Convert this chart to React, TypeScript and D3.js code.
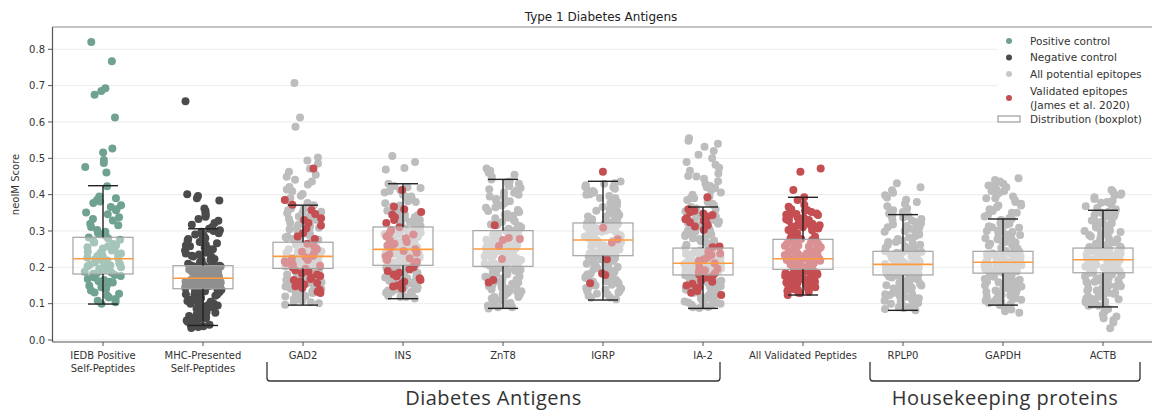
import React from 'react';
import * as d3 from 'd3';

const categories = [
  'IEDB Positive\nSelf-Peptides', 'MHC-Presented\nSelf-Peptides', 'GAD2', 'INS', 'ZnT8', 'IGRP', 'IA-2',
  'All Validated Peptides', 'RPLP0', 'GAPDH', 'ACTB',
];
const yTickValues = [0, 0.1, 0.2, 0.3, 0.4, 0.5, 0.6, 0.7, 0.8];

// box statistics
const boxQ1 = [.1816, .141, .197, .2055, .2027, .232, .179, .1945, .179, .184, .185];
const boxMed = [.2237, .170, .230, .2495, .2504, .275, .211, .2237, .208, .214, .221];
const boxQ3 = [.2826, .2045, .269, .311, .301, .322, .253, .277, .244, .244, .253];
const whiskLo = [.099, .040, .096, .1137, .087, .110, .087, .1238, .0816, .096, .091];
const whiskHi = [.4246, .306, .371, .430, .442, .4367, .366, .3926, .345, .333, .357];

const posControl = [.82,.767,.693,.685,.675,.612,.527,.516,.495,.487,.476,.461,.423,
.395,.39,.386,.381,.377,.371,.366,.36,.357,.351,.346,.338,.333,.329,.32,.316,.311,.303,.298,.294,.291,.287,
.282,.279,.276,.271,.268,.264,.261,.258,.255,.252,.249,.246,.243,.24,.238,.235,.233,.231,.229,.227,.225,
.223,.221,.219,.217,.215,.213,.211,.209,.207,.205,.203,.2,.198,.196,.194,.192,.19,.188,.186,.184,.182,
.179,.176,.172,.168,.165,.162,.16,.158,.156,.153,.149,.145,.14,.136,.131,.127,.122,.117,.113,.108,.104,.1];

const negControl = [.657,.401,.396,.39,.384,.362,.355,.349,.344,.339,.333,.328,.322,.317,.311,
.306,.302,.298,.294,.29,.286,.282,.278,.274,.27,.266,.262,.258,.254,.25,.246,.242,.238,.235,.232,.229,.226,.223,.22,.217,.214,.212,.21,.208,.206,
.204,.203,.202,.2,.199,.198,.196,.195,.194,.192,.191,.19,.188,.187,.186,.185,.183,.182,.181,.18,.178,.177,.176,.175,.174,.173,.172,.171,
.17,.169,.168,.167,.166,.165,.164,.163,.162,.161,.16,.159,.158,.157,.156,.155,.154,.153,.152,.151,.15,.149,.148,.147,.146,.145,.144,.143,.142,.141,
.14,.138,.136,.134,.132,.13,.128,.126,.124,.122,.119,.116,.113,.11,.107,.104,.1,.097,.093,.09,.086,.082,.078,.074,.07,.066,.062,.058,.054,.05,.046,.042,.04,.038,.036,.033,
.3,.29,.28,.27,.26,.25,.24,.23,.22,.21,.205,.2,.195,.19,.185,.18,.175,.17,.165,.16,.155,.15,.145,.14,.135,.13,.125,.12,.115,.11,.105,.1,.095,.09,.085,.08,.075,.07,.065,.06,.055,.05];

const gad2All = [.707,.612,.587,.502,.494,.486,.471,.463,.455,.449,.441,.436,.428,.421,.414,.409,.402,.397,.391,.386,.381,.377,
.371,.366,.362,.357,.353,.349,.344,.34,.336,.331,.327,.322,.318,.314,.309,.305,.301,.297,.293,.289,.285,.281,.278,.275,.272,
.268,.266,.264,.262,.26,.258,.256,.254,.252,.25,.248,.246,.244,.242,.24,.238,.236,.234,.232,.23,
.229,.227,.225,.223,.221,.219,.217,.215,.213,.211,.209,.207,.205,.203,.201,.199,.197,
.195,.192,.189,.186,.183,.18,.177,.174,.171,.168,.165,.162,.159,.156,.153,.15,.147,.144,.141,.137,.133,.129,.125,.121,.117,.113,.109,.105,.101,.097,
.36,.35,.342,.333,.325,.316,.307,.298,.29,.283,.276,.27,.263,.257,.251,.245,.239,.233,.228,.224,.219,.214,.21,.206,.202,.198,.194,.19,.185,.18,.175,.17,.164,.158,.152,.146,.14,.134,.127,.12,.112,.104];
const gad2Val = [.472,.385,.372,.358,.347,.335,.33,.322,.315,.307,.294,.285,.278,.265,.257,.25,.243,.238,.232,.228,.224,.22,.216,.212,.208,.204,.2,.196,.192,.188,.184,.18,.176,.172,.168,.165,.161,.157,.153,.148,.143,.138,.133,.129];

const insAll = [.506,.49,.473,.469,
.43,.424,.418,.412,.406,.4,.394,.388,.382,.376,.37,.364,.358,.353,.348,.343,.338,.334,.33,.326,.322,.318,.314,
.31,.307,.304,.301,.298,.295,.292,.289,.286,.283,.28,.277,.274,.271,.268,.265,.262,.259,.256,.253,.251,
.249,.247,.245,.243,.241,.239,.237,.235,.233,.231,.229,.227,.225,.223,.221,.219,.217,.215,.213,.211,.209,.207,
.205,.202,.199,.196,.193,.19,.187,.184,.181,.178,.175,.172,.169,.166,.163,.16,.157,.154,.151,.148,.145,.142,.139,.136,.133,.13,.127,.124,.121,.118,.114,
.42,.41,.395,.38,.368,.356,.345,.335,.325,.316,.308,.3,.292,.284,.276,.269,.262,.256,.25,.244,.238,.232,.226,.22,.214,.208,.2,.192,.185,.177,.17,.162,.155,.147,.14,.132,.125,.118];
const insVal = [.413,.367,.36,.352,.345,.338,.33,.322,.31,.302,.295,.29,.285,.28,.275,.27,.265,.26,.255,.25,.245,.24,.235,.23,.225,.22,.215,.21,.2,.195,.19,.185,.18,.175,.17,.165,.16,.155,.15,.147,.142];

const znt8All = [.472,.466,.46,.455,.449,
.442,.436,.43,.424,.418,.412,.406,.4,.394,.388,.382,.376,.37,.364,.358,.352,.347,.342,.337,.332,.327,.322,.318,.314,.31,.306,.302,
.3,.297,.294,.291,.288,.285,.282,.279,.276,.273,.27,.267,.264,.262,.26,.258,.256,.254,.252,.251,
.25,.248,.246,.244,.242,.24,.238,.236,.234,.232,.23,.228,.226,.224,.222,.22,.218,.216,.214,.212,.21,.208,.206,.204,
.202,.199,.196,.193,.19,.187,.184,.181,.178,.175,.172,.169,.166,.163,.16,.157,.154,.151,.148,.145,.142,.139,.136,.133,.13,.126,.122,.118,.114,.11,.106,.102,.098,.094,.09,.087,
.435,.425,.415,.405,.395,.385,.375,.365,.355,.345,.335,.325,.316,.308,.3,.292,.285,.278,.271,.265,.259,.253,.247,.241,.235,.229,.223,.217,.211,.205,.198,.19,.182,.174,.166,.158,.15,.142,.134,.126,.118,.108,.098,.09];
const znt8Val = [.316,.281,.278,.275,.259,.223,.165,.158];

const igrpAll = [.436,.431,.426,.421,.416,.411,.406,.401,.396,.391,.386,.381,.376,.371,.366,.361,.356,.352,.348,.344,.34,.336,.332,.328,.325,
.322,.319,.316,.313,.31,.307,.304,.301,.298,.295,.292,.289,.286,.283,.28,.277,
.275,.273,.271,.269,.267,.265,.263,.261,.259,.257,.255,.253,.251,.249,.247,.245,.243,.241,.239,.237,.235,.233,
.231,.228,.225,.222,.219,.216,.213,.21,.207,.204,.201,.198,.195,.192,.189,.186,.183,.18,.177,.174,.171,.168,.165,.162,.158,.154,.15,.146,.142,.138,.134,.131,.127,.122,.117,.112,
.43,.42,.41,.4,.39,.38,.37,.36,.35,.34,.33,.32,.312,.305,.298,.291,.285,.279,.273,.267,.261,.255,.249,.243,.237,.231,.225,.218,.21,.202,.194,.186,.178,.17,.161,.152,.143,.134,.125,.116];
const igrpVal = [.463,.309,.277,.268,.222,.183,.179,.156];

const ia2All = [.555,.548,.54,.532,.52,.51,.5,.49,.482,.474,.466,.458,.451,.444,.437,.43,.424,.418,.412,.406,.4,.395,.39,.385,.38,.375,.37,
.366,.362,.358,.354,.35,.346,.342,.338,.334,.33,.326,.322,.318,.314,.31,.306,.302,.298,.294,.29,.286,.282,.278,.274,.27,.266,.262,.258,.255,
.253,.251,.249,.247,.245,.243,.241,.239,.237,.235,.233,.231,.229,.227,.225,.223,.221,.219,.217,.215,.213,.211,
.21,.209,.208,.207,.206,.205,.204,.203,.202,.201,.2,.199,.198,.197,.196,.195,.194,.193,.192,.191,.19,.189,.188,.187,.186,.185,.184,.183,.182,.181,.18,
.178,.175,.172,.169,.166,.163,.16,.157,.154,.151,.148,.145,.142,.139,.136,.133,.13,.127,.124,.121,.118,.115,.112,.109,.106,.103,.1,.097,.094,.091,.088,
.36,.35,.34,.33,.32,.31,.3,.29,.28,.272,.265,.258,.252,.246,.24,.235,.23,.225,.22,.215,.21,.205,.2,.195,.19,.186,.182,.177,.172,.167,.162,.156,.15,.144,.138,.132,.126,.12,.114,.108,.102,.096,.09,.45,.42,.39];
const ia2Val = [.393,.36,.356,.352,.348,.344,.34,.336,.332,.328,.324,.32,.316,.312,.303,.257,.255,.243,.238,.234,.23,.226,.222,.218,.214,.211,.2,.196,.192,.188,.184,.18,.176,.172,.168,.164,.16,.155,.15,.145,.14,.135,.13,.124];

const rplp0All = [.431,.42,.412,.405,.398,.392,.386,.38,.374,.368,.362,.357,.352,.348,
.345,.341,.337,.333,.329,.325,.321,.318,.314,.31,.306,.302,.298,.294,.29,.286,.282,.278,.274,.27,.266,.262,.258,.254,.25,.247,
.244,.242,.24,.238,.236,.234,.232,.23,.228,.226,.224,.222,.22,.218,.216,.214,.212,.21,.209,
.208,.207,.206,.205,.204,.203,.202,.201,.2,.199,.198,.197,.196,.195,.194,.193,.192,.191,.19,.189,.188,.187,.186,.185,.184,.183,.182,.181,.18,
.178,.175,.172,.169,.166,.163,.16,.157,.154,.151,.148,.145,.142,.139,.136,.133,.13,.127,.124,.121,.118,.115,.112,.109,.106,.103,.1,.097,.094,.091,.088,.085,.082,
.34,.33,.32,.31,.3,.29,.28,.27,.262,.255,.248,.242,.236,.23,.225,.22,.215,.21,.205,.2,.195,.19,.186,.182,.177,.172,.167,.162,.156,.15,.144,.138,.132,.126,.12,.114,.108,.102,.096,.09];

const gapdhAll = [.445,.44,.436,.43,.425,.42,.415,.41,.405,.4,.395,.39,.385,.38,.375,.37,.365,.36,.355,.35,.345,.34,.336,
.333,.329,.325,.321,.317,.313,.309,.305,.301,.297,.293,.289,.285,.281,.277,.273,.269,.265,.261,.257,.253,.249,.246,
.244,.242,.24,.238,.236,.234,.232,.23,.228,.226,.224,.222,.22,.218,.216,
.214,.213,.212,.211,.21,.209,.208,.207,.206,.205,.204,.203,.202,.201,.2,.199,.198,.197,.196,.195,.194,.193,.192,.191,.19,.189,.188,.187,.186,.185,
.183,.18,.177,.174,.171,.168,.165,.162,.159,.156,.153,.15,.147,.144,.141,.138,.135,.132,.129,.126,.123,.12,.117,.114,.111,.108,.105,.102,.099,.096,.09,.084,.079,.075,
.43,.41,.39,.37,.35,.33,.32,.31,.3,.29,.28,.27,.26,.252,.245,.238,.232,.226,.22,.215,.21,.205,.2,.195,.19,.186,.182,.177,.172,.166,.16,.154,.148,.142,.136,.13,.124,.118,.112,.106,.1];

const actbAll = [.413,.408,.403,.398,.393,.388,.383,.378,.373,.368,.363,
.357,.353,.349,.345,.341,.337,.333,.329,.325,.321,.317,.313,.309,.305,.301,.297,.293,.289,.285,.281,.277,.273,.269,.265,.261,.257,.255,
.253,.251,.249,.247,.245,.243,.241,.239,.237,.235,.233,.231,.229,.227,.225,.223,.222,
.221,.219,.217,.215,.213,.211,.209,.207,.205,.203,.201,.199,.197,.195,.193,.191,.189,.187,.186,
.184,.181,.178,.175,.172,.169,.166,.163,.16,.157,.154,.151,.148,.145,.142,.139,.136,.133,.13,.127,.124,.121,.118,.115,.112,.109,.106,.103,.1,.097,.094,.091,.085,.078,.07,.065,.06,.055,.048,.032,
.4,.38,.36,.35,.34,.33,.32,.31,.3,.29,.28,.27,.262,.256,.25,.244,.238,.232,.226,.22,.214,.208,.202,.196,.19,.185,.18,.175,.17,.165,.16,.154,.148,.142,.136,.13,.124,.118,.112,.106,.1,.094];

const allValidated = [...gad2Val, ...insVal, ...znt8Val, ...igrpVal, ...ia2Val];

const legendLabels = ['Positive control', 'Negative control', 'All potential epitopes', 'Validated epitopes\n(James et al. 2020)', 'Distribution (boxplot)'];
const brackets = [
  { label: 'Diabetes Antigens', from: 2, to: 6 },
  { label: 'Housekeeping proteins', from: 8, to: 10 },
];

const C_POS = '#6fa290';
const C_NEG = '#4b4b4b';
const C_ALL = '#bdbdbd';
const C_VAL = '#c44e52';

const FONT = 'DejaVu Sans, sans-serif';

export default function App() {
  const W = 1152, H = 412;
  const x = d3.scaleLinear().domain([-0.5, 10.5]).range([53, 1153]);
  const y = d3.scaleLinear().domain([-0.0055, 0.8613]).range([342, 27]);
  const J = 18.5, R = 4;

  const layers: { cat: number; values: number[]; color: string; seed: number }[] = [
    { cat: 0, values: posControl, color: C_POS, seed: 1 },
    { cat: 1, values: negControl, color: C_NEG, seed: 2 },
    { cat: 2, values: gad2All, color: C_ALL, seed: 3 },
    { cat: 3, values: insAll, color: C_ALL, seed: 4 },
    { cat: 4, values: znt8All, color: C_ALL, seed: 5 },
    { cat: 5, values: igrpAll, color: C_ALL, seed: 6 },
    { cat: 6, values: ia2All, color: C_ALL, seed: 7 },
    { cat: 8, values: rplp0All, color: C_ALL, seed: 8 },
    { cat: 9, values: gapdhAll, color: C_ALL, seed: 9 },
    { cat: 10, values: actbAll, color: C_ALL, seed: 10 },
    { cat: 2, values: gad2Val, color: C_VAL, seed: 11 },
    { cat: 3, values: insVal, color: C_VAL, seed: 12 },
    { cat: 4, values: znt8Val, color: C_VAL, seed: 13 },
    { cat: 5, values: igrpVal, color: C_VAL, seed: 14 },
    { cat: 6, values: ia2Val, color: C_VAL, seed: 15 },
    { cat: 7, values: allValidated, color: C_VAL, seed: 16 },
  ];
  // deterministic strip-plot jitter (layout only)
  const jit = (i: number, seed: number) => {
    const s = Math.sin(i * 12.9898 + seed * 78.233) * 43758.5453;
    const f = s - Math.floor(s);
    return (f - 0.5) * 2 * J;
  };

  const legendColors = [C_POS, C_NEG, '#c8c8c8', C_VAL];
  const legendY = [41, 57.5, 74, 98, 119];

  return (
    <svg width={W} height={H} style={{ position: 'absolute', left: 0, top: 0, background: '#fff' }} fontFamily={FONT}>
      <text x={601} y={21} textAnchor="middle" fontSize={12} fill="#222">Type 1 Diabetes Antigens</text>
      {yTickValues.map(t => (
        <line key={'g' + t} x1={53} x2={W} y1={y(t)} y2={y(t)} stroke="#ebebeb" strokeWidth={1} />
      ))}
      {layers.map((l, li) => (
        <g key={'l' + li}>
          {l.values.map((v, i) => (
            <circle key={i} cx={x(l.cat) + jit(i, l.seed)} cy={y(v)} r={R} fill={l.color} />
          ))}
        </g>
      ))}
      {categories.map((c, i) => (
        <g key={'b' + i}>
          <rect x={x(i) - 30} y={y(boxQ3[i])} width={60} height={y(boxQ1[i]) - y(boxQ3[i])}
            fill="#fff" fillOpacity={0.38} stroke="#a3a3a3" strokeWidth={1.2} />
          <line x1={x(i)} x2={x(i)} y1={y(boxQ3[i])} y2={y(whiskHi[i])} stroke="#222" strokeWidth={1.4} />
          <line x1={x(i)} x2={x(i)} y1={y(boxQ1[i])} y2={y(whiskLo[i])} stroke="#222" strokeWidth={1.4} />
          <line x1={x(i) - 15} x2={x(i) + 15} y1={y(whiskHi[i])} y2={y(whiskHi[i])} stroke="#222" strokeWidth={1.4} />
          <line x1={x(i) - 15} x2={x(i) + 15} y1={y(whiskLo[i])} y2={y(whiskLo[i])} stroke="#222" strokeWidth={1.4} />
          <line x1={x(i) - 30} x2={x(i) + 30} y1={y(boxMed[i])} y2={y(boxMed[i])} stroke="#ff9a3c" strokeWidth={1.6} />
        </g>
      ))}
      <line x1={52.5} x2={52.5} y1={27} y2={342} stroke="#555" strokeWidth={1.2} />
      <line x1={52.5} x2={W} y1={27} y2={27} stroke="#888" strokeWidth={1.2} />
      <line x1={52.5} x2={W} y1={342} y2={342} stroke="#555" strokeWidth={1.2} />
      {yTickValues.map(t => (
        <g key={'yt' + t}>
          <line x1={48} x2={52.5} y1={y(t)} y2={y(t)} stroke="#555" strokeWidth={1} />
          <text x={45} y={y(t) + 3.6} textAnchor="end" fontSize={10} fill="#333">{d3.format('.1f')(t)}</text>
        </g>
      ))}
      <text transform={`translate(19,${(27 + 342) / 2}) rotate(-90)`} textAnchor="middle" fontSize={10} fill="#333">neoIM Score</text>
      {categories.map((c, i) => (
        <g key={'xt' + i}>
          <line x1={x(i)} x2={x(i)} y1={342} y2={346} stroke="#555" strokeWidth={1} />
          {c.split('\n').map((s, k) => (
            <text key={k} x={x(i)} y={359 + k * 13} textAnchor="middle" fontSize={10} fill="#333">{s}</text>
          ))}
        </g>
      ))}
      {brackets.map((b, k) => {
        const x1 = x(b.from) - (k === 0 ? 36 : 33);
        const x2 = x(b.to) + (k === 0 ? 17 : 37);
        const yTop = 362, yB = 381, r = 3;
        return (
          <g key={'br' + k}>
            <path d={`M${x1},${yTop} V${yB - r} Q${x1},${yB} ${x1 + r},${yB} H${x2 - r} Q${x2},${yB} ${x2},${yB - r} V${yTop}`}
              fill="none" stroke="#333" strokeWidth={1.3} />
            <text x={(x1 + x2) / 2} y={405} textAnchor="middle" fontSize={20} letterSpacing={0.5}
              fontFamily="Open Sans, sans-serif" fill="#333">{b.label}</text>
          </g>
        );
      })}
      <rect x={997} y={30} width={W - 997} height={98} fill="#fff" fillOpacity={0.9} />
      {legendLabels.map((lab, k) => (
        <g key={'lg' + k}>
          {k < 4 ? (
            <circle cx={1009} cy={legendY[k]} r={3} fill={legendColors[k]} />
          ) : (
            <rect x={998} y={legendY[k] - 3} width={22} height={6} fill="none" stroke="#888" strokeWidth={1} />
          )}
          {lab.split('\n').map((s, j, arr) => (
            <text key={j} x={1030} y={legendY[k] + 3.8 + (j - (arr.length - 1) / 2) * 14.5} fontSize={10.5} fill="#333">{s}</text>
          ))}
        </g>
      ))}
    </svg>
  );
}
